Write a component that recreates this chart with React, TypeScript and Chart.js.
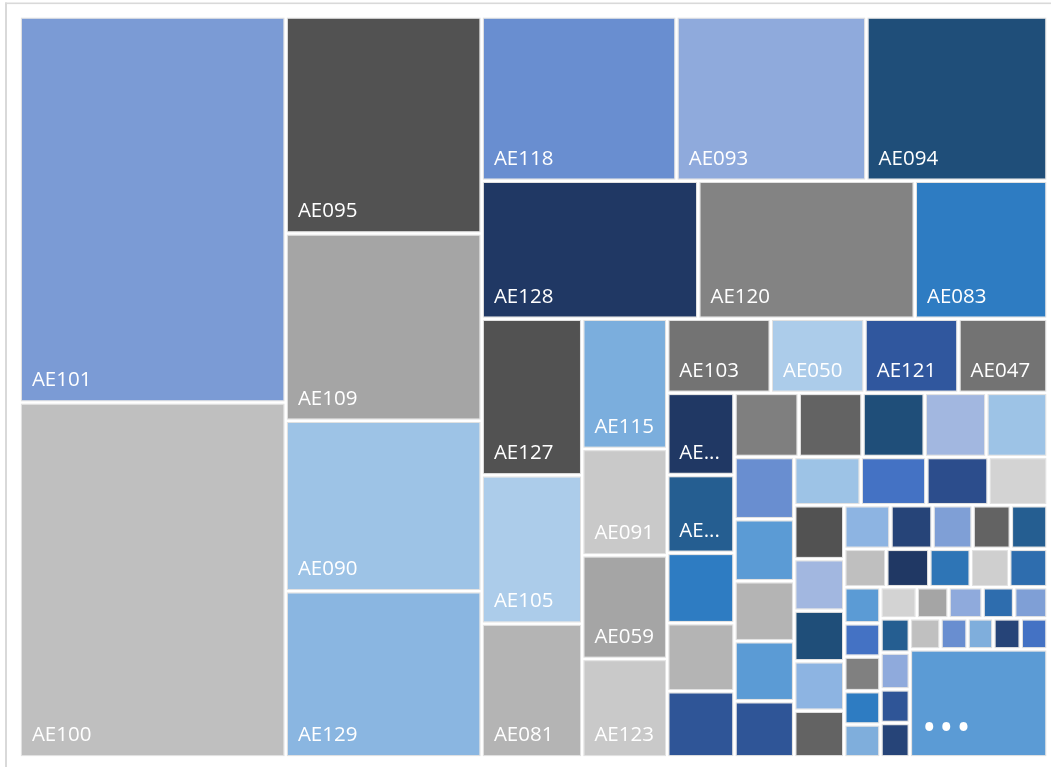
import React, { useEffect, useRef } from "react";
import { Chart, registerables } from "chart.js";

Chart.register(...registerables);

// ---- data ----
const categories: string[] = [
  "AE101", "AE100",
  "AE095", "AE109", "AE090", "AE129",
  "AE118", "AE093", "AE094",
  "AE128", "AE120", "AE083",
  "AE127", "AE105", "AE081",
  "AE115", "AE091", "AE059", "AE123",
  "AE103", "AE050", "AE121", "AE047",
  "AE112", "AE087", "AE099", "AE064", "AE117",
  "AE072", "AE108", "AE096", "AE085", "AE124",
  "AE078", "AE113", "AE069", "AE102", "AE088",
  "AE119", "AE061", "AE106", "AE074",
  "AE092", "AE125", "AE058", "AE111", "AE080",
  "AE098", "AE066", "AE126", "AE076", "AE104",
  "AE089", "AE070", "AE114", "AE062", "AE097",
  "AE082", "AE107", "AE068", "AE122", "AE075",
  "AE086", "AE060", "AE116", "AE079", "AE065",
  "AE110", "AE073", "AE084", "AE063",
  "AE077", "AE067", "AE071", "AE057", "AE056",
  "...",
];

const values: number[] = [
  10268, 9438,
  4253, 3671, 3340, 3256,
  3201, 3120, 2976,
  2988, 2989, 1831,
  1573, 1491, 1343,
  1106, 904, 881, 836,
  768, 694, 696, 660,
  553, 524, 473, 458, 445,
  412, 409, 399, 395, 392,
  371, 370, 358, 358, 335,
  321, 316, 300, 284,
  270, 258, 253, 248, 233,
  202, 184, 175, 167, 160,
  161, 165, 159, 147, 147,
  131, 121, 125, 121, 119,
  113, 99, 106, 98, 104,
  101, 108, 99, 101,
  95, 84, 80, 85, 83,
  1486,
];

// number of items laid out in each squarified strip
const stripSizes: number[] = [2, 4, 3, 3, 3, 4, 4, 5, 5, 5, 4, 5, 5, 5, 5, 5, 4, 5, 1];

const palette: string[] = [
  "#7B9BD5", "#BFBFBF",
  "#525252", "#A5A5A5", "#9DC3E6", "#8AB6E1",
  "#698ED0", "#8FAADC", "#1F4E79",
  "#203864", "#838383", "#2E7CC2",
  "#525252", "#ACCCEA", "#B4B4B4",
  "#7BAEDD", "#C9C9C9", "#A5A5A5", "#C9C9C9",
  "#737373", "#ACCCEA", "#30579E", "#737373",
  "#203864", "#255E91", "#2E7CC2", "#B4B4B4", "#2F5597",
  "#7F7F7F", "#636363", "#1F4E79", "#A2B7E0", "#9DC3E6",
  "#698ED0", "#5B9BD5", "#B4B4B4", "#5B9BD5", "#2F5597",
  "#9DC3E6", "#4472C4", "#2C4D8C", "#D3D3D3",
  "#525252", "#A2B7E0", "#1F4E79", "#8DB4E2", "#636363",
  "#8DB4E2", "#264478", "#7F9FD6", "#636363", "#255E91",
  "#BFBFBF", "#203864", "#2E75B6", "#CFCFCF", "#2E6DAE",
  "#5B9BD5", "#4472C4", "#808080", "#2E7CC2", "#7FAEDC",
  "#D3D3D3", "#A5A5A5", "#8FAADC", "#2E6DAE", "#7F9FD6",
  "#255E91", "#8FAADC", "#2F5597", "#264478",
  "#C0C0C0", "#698ED0", "#7FAEDC", "#264478", "#4472C4",
  "#5B9BD5",
];

const AREA_W = 1027.8;
const AREA_H = 740.8;

type R = { x0: number; y0: number; x1: number; y1: number };

function layoutTreemap(vals: number[], strips: number[], W: number, H: number): R[] {
  const total = vals.reduce((a, b) => a + b, 0);
  const k = (W * H) / total;
  let rx = 0, ry = 0, rw = W, rh = H;
  let idx = 0;
  const out: R[] = [];
  for (const n of strips) {
    const items = vals.slice(idx, idx + n);
    const s = items.reduce((a, b) => a + b, 0) * k;
    if (rw >= rh) {
      const w = s / rh;
      let yy = ry;
      for (const v of items) {
        const h = (v * k) / w;
        out.push({ x0: rx, y0: yy, x1: rx + w, y1: yy + h });
        yy += h;
      }
      rx += w;
      rw -= w;
    } else {
      const h = s / rw;
      let xx = rx;
      for (const v of items) {
        const w = (v * k) / h;
        out.push({ x0: xx, y0: ry, x1: xx + w, y1: ry + h });
        xx += w;
      }
      ry += h;
      rh -= h;
    }
    idx += n;
  }
  return out;
}

const FONT = "20.5px 'Open Sans', 'Noto Sans', sans-serif";

const treemapPlugin = {
  id: "treemapCells",
  beforeDraw(chart: any) {
    const ctx = chart.ctx as CanvasRenderingContext2D;
    ctx.save();
    ctx.fillStyle = "#FFFFFF";
    ctx.fillRect(0, 0, chart.width, chart.height);
    ctx.fillStyle = "#D9D9D9";
    ctx.fillRect(5, 2.5, 2, chart.height);
    ctx.fillRect(5, 2.5, chart.width, 1.6);
    ctx.restore();
  },
  afterDatasetsDraw(chart: any) {
    const ctx = chart.ctx as CanvasRenderingContext2D;
    const xs = chart.scales.x;
    const ys = chart.scales.y;
    const rects = layoutTreemap(values, stripSizes, AREA_W, AREA_H);
    const inset = 2.2;
    ctx.save();
    rects.forEach((r, i) => {
      const px0 = xs.getPixelForValue(r.x0) + inset;
      const px1 = xs.getPixelForValue(r.x1) - inset;
      const py0 = ys.getPixelForValue(r.y0) + inset;
      const py1 = ys.getPixelForValue(r.y1) - inset;
      const w = px1 - px0;
      const h = py1 - py0;
      ctx.fillStyle = palette[i % palette.length];
      ctx.fillRect(px0, py0, w, h);
      ctx.strokeStyle = "rgba(200,200,200,0.55)";
      ctx.lineWidth = 1;
      ctx.strokeRect(px0 - 0.5, py0 - 0.5, w + 1, h + 1);

      const name = categories[i];
      ctx.fillStyle = "#FFFFFF";
      ctx.textBaseline = "alphabetic";
      ctx.textAlign = "left";
      if (name === "...") {
        ctx.font = "bold 28px 'Open Sans', sans-serif";
        (ctx as any).letterSpacing = "6.5px";
        ctx.fillText("\u2022\u2022\u2022", px0 + 12, py1 - 18);
        (ctx as any).letterSpacing = "0px";
        return;
      }
      if (w * h < 4350 || w < 40) return;
      ctx.font = FONT;
      const avail = w - 20;
      let text = name;
      if (ctx.measureText(text).width > avail) {
        let n = name.length - 1;
        text = name.slice(0, n) + "...";
        while (n > 0 && ctx.measureText(text).width > avail) {
          n--;
          text = name.slice(0, n) + "...";
        }
        if (n === 0) return;
      }
      ctx.fillText(text, px0 + 10, py1 - 14);
    });
    ctx.restore();
  },
};

export default function App() {
  const ref = useRef<HTMLCanvasElement | null>(null);
  useEffect(() => {
    if (!ref.current) return;
    const chart = new Chart(ref.current, {
      type: "scatter",
      data: {
        datasets: [
          {
            label: "Treemap",
            data: [],
            pointRadius: 0,
          },
        ],
      },
      options: {
        animation: false,
        responsive: false,
        maintainAspectRatio: false,
        devicePixelRatio: 1,
        layout: { padding: { left: 19.7, right: 3.5, top: 16.5, bottom: 9.7 } },
        plugins: { legend: { display: false }, tooltip: { enabled: false }, title: { display: false } },
        scales: {
          x: { type: "linear", min: 0, max: AREA_W, display: false },
          y: { type: "linear", min: 0, max: AREA_H, reverse: true, display: false },
        },
      },
      plugins: [treemapPlugin],
    });
    return () => chart.destroy();
  }, []);
  return (
    <div style={{ position: "fixed", left: 0, top: 0, width: 1051, height: 767, background: "#fff" }}>
      <canvas ref={ref} width={1051} height={767} style={{ display: "block", width: 1051, height: 767 }} />
    </div>
  );
}
